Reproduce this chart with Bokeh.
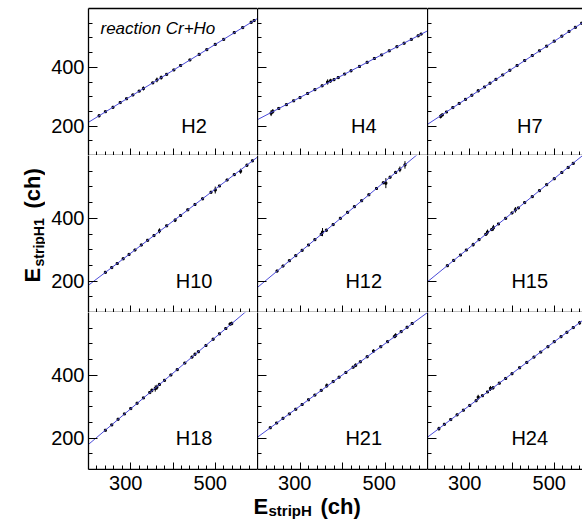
import math
from bokeh.plotting import figure
from bokeh.layouts import column, row
from bokeh.models import LinearAxis, FixedTicker, Label, Range1d, ColumnDataSource
from bokeh.embed import file_html
from bokeh.resources import INLINE
from bokeh.core.properties import value

# ---------------- data ----------------
PANEL_NAMES = ["H2", "H4", "H7", "H10", "H12", "H15", "H18", "H21", "H24"]

# straight-line calibration fits: value of E_stripH1 at E_stripH = 200 and 600
FIT_X = [200, 600]
FIT_Y_AT_200 = [213, 222, 206, 187, 180, 198, 180, 203, 203]
FIT_Y_AT_600 = [566, 524, 583, 595, 630, 636, 634, 600, 608]

X_H2 = [225, 240, 258, 275, 290, 305, 320, 330, 352, 362, 372, 385, 402, 418, 440, 462, 480, 500, 520, 545, 565, 585, 592]
Y_H2 = [235, 249, 264, 280, 293, 306, 319, 328, 347, 357, 365, 376, 391, 406, 425, 444, 460, 478, 495, 518, 535, 553, 559]
E_H2 = [5, 3, 3, 4, 3, 4, 3, 7, 4, 8, 7, 3, 3, 4, 3, 4, 3, 4, 3, 3, 3, 5, 4]

X_H4 = [232, 236, 250, 268, 285, 300, 318, 335, 352, 365, 372, 380, 390, 405, 420, 440, 458, 475, 492, 510, 528, 545, 562, 578, 585]
Y_H4 = [244, 250, 260, 273, 286, 297, 311, 324, 337, 350, 354, 358, 365, 377, 388, 403, 417, 430, 442, 456, 470, 482, 495, 507, 513]
E_H4 = [10, 8, 3, 3, 3, 4, 3, 3, 3, 9, 7, 3, 5, 3, 3, 3, 3, 4, 3, 3, 3, 3, 3, 3, 3]

X_H7 = [231, 235, 245, 260, 275, 290, 305, 320, 335, 348, 362, 378, 395, 412, 430, 448, 465, 482, 500, 518, 535, 550, 565]
Y_H7 = [233, 238, 248, 263, 277, 291, 305, 320, 333, 346, 359, 374, 390, 406, 423, 440, 456, 472, 489, 506, 522, 536, 550]
E_H7 = [7, 5, 3, 3, 3, 3, 3, 5, 3, 3, 3, 3, 3, 3, 3, 3, 3, 3, 3, 3, 3, 3, 3]

X_H10 = [240, 255, 268, 282, 296, 310, 325, 340, 355, 368, 385, 405, 418, 435, 452, 470, 490, 500, 510, 528, 545, 560, 575, 588]
Y_H10 = [228, 243, 256, 271, 285, 299, 315, 330, 345, 360, 376, 394, 409, 427, 444, 462, 483, 490, 503, 522, 539, 550, 569, 583]
E_H10 = [4, 3, 3, 4, 3, 3, 4, 3, 3, 8, 3, 6, 3, 3, 3, 4, 3, 11, 3, 3, 4, 8, 5, 4]

X_H12 = [246, 260, 275, 290, 305, 320, 335, 350, 353, 362, 378, 395, 412, 428, 445, 462, 480, 496, 502, 512, 525, 535, 547]
Y_H12 = [232, 248, 265, 281, 298, 315, 332, 349, 356, 362, 380, 400, 419, 437, 456, 475, 495, 513, 512, 531, 546, 556, 570]
E_H12 = [4, 3, 3, 4, 3, 3, 4, 3, 13, 5, 3, 3, 3, 4, 3, 3, 3, 4, 16, 3, 5, 9, 12]

X_H15 = [247, 262, 278, 292, 308, 322, 338, 342, 352, 356, 368, 385, 400, 408, 415, 430, 448, 465, 482, 500, 518, 533, 545]
Y_H15 = [249, 266, 283, 299, 316, 332, 349, 356, 364, 370, 382, 400, 417, 427, 433, 450, 469, 488, 507, 526, 546, 562, 575]
E_H15 = [3, 4, 3, 3, 6, 3, 3, 8, 4, 9, 3, 3, 3, 9, 3, 3, 3, 3, 3, 3, 3, 4, 3]

X_H18 = [240, 255, 270, 285, 300, 315, 330, 345, 350, 358, 362, 368, 380, 395, 410, 428, 445, 452, 460, 478, 495, 510, 525, 535, 539]
Y_H18 = [225, 242, 260, 277, 294, 311, 328, 345, 352, 358, 362, 371, 384, 401, 418, 439, 458, 467, 475, 495, 515, 532, 549, 563, 565]
E_H18 = [3, 3, 3, 3, 3, 3, 3, 3, 6, 10, 8, 3, 4, 3, 3, 3, 3, 5, 3, 3, 4, 3, 3, 5, 6]

X_H21 = [230, 245, 260, 275, 290, 305, 320, 335, 350, 363, 378, 392, 408, 425, 431, 442, 458, 473, 490, 506, 522, 525, 538, 552, 564]
Y_H21 = [233, 248, 263, 277, 292, 307, 322, 337, 352, 367, 380, 394, 409, 426, 432, 443, 459, 477, 491, 507, 523, 527, 539, 553, 565]
E_H21 = [3, 3, 3, 3, 3, 3, 3, 3, 3, 7, 3, 3, 3, 3, 6, 3, 3, 6, 3, 3, 3, 7, 3, 3, 4]

X_H24 = [227, 240, 255, 270, 285, 300, 315, 320, 330, 342, 349, 355, 370, 385, 400, 418, 435, 452, 468, 485, 500, 516, 530, 545, 560]
Y_H24 = [230, 244, 259, 274, 289, 304, 319, 330, 335, 347, 358, 360, 375, 390, 405, 424, 441, 458, 474, 491, 507, 523, 537, 552, 567]
E_H24 = [6, 3, 3, 3, 3, 3, 3, 8, 3, 3, 8, 5, 3, 3, 3, 3, 3, 3, 3, 3, 3, 3, 3, 3, 6]

PANEL_X = [X_H2, X_H4, X_H7, X_H10, X_H12, X_H15, X_H18, X_H21, X_H24]
PANEL_Y = [Y_H2, Y_H4, Y_H7, Y_H10, Y_H12, Y_H15, Y_H18, Y_H21, Y_H24]
PANEL_E = [E_H2, E_H4, E_H7, E_H10, E_H12, E_H15, E_H18, E_H21, E_H24]

X_MAJOR = [300, 400, 500]
X_MINOR = [220, 240, 260, 280, 320, 340, 360, 380, 420, 440, 460, 480, 520, 540, 560, 580]
X_LABELED = [300, 500]
X_LABELS = {300: "300\u2002", 500: "500\u2002"}
Y_MAJOR = [200, 400]
Y_MINOR = [150, 250, 300, 350, 450, 500, 550]
Y_MIN, Y_MAX = 100, 600
X_MIN, X_MAX = 200, 600

# ---------------- layout / style ----------------
FONT = "Liberation Sans"
YTITLE_W = 45
COL_FRAME_W = [169, 170, 155]
ROW_FRAME_H = [147, 157, 157]
LEFT_B = 88 - YTITLE_W
TOP_B = 8
BOTTOM_B = 1
XSTRIP_H = 522 - TOP_B - sum(ROW_FRAME_H) - BOTTOM_B
XSTRIP_FRAME_W = 582 - YTITLE_W - LEFT_B
LINE_COLOR = "#4b4bd8"
PX_PER_UNIT = COL_FRAME_W[0] / (X_MAX - X_MIN)


def col_x_end(c):
    return X_MAX if c < 2 else X_MIN + COL_FRAME_W[c] / PX_PER_UNIT


def style_axis(ax, show_labels, tick_in, minor_in):
    ax.major_tick_in = tick_in
    ax.major_tick_out = 0
    ax.minor_tick_in = minor_in
    ax.minor_tick_out = 0
    ax.axis_line_color = "black"
    ax.axis_line_width = 1.3
    ax.major_tick_line_color = "black"
    ax.minor_tick_line_color = "black"
    ax.major_label_text_font = FONT
    ax.major_label_text_color = "black"
    if show_labels:
        ax.major_label_text_font_size = "20px"
        ax.major_label_standoff = 4
    else:
        ax.major_label_text_font_size = "0px"
        ax.major_label_text_alpha = 0
        ax.major_label_standoff = 0


def make_panel(i):
    r, c = divmod(i, 3)
    p = figure(frame_width=COL_FRAME_W[c], frame_height=ROW_FRAME_H[r],
               x_range=Range1d(X_MIN, col_x_end(c)), y_range=Range1d(Y_MIN, Y_MAX),
               output_backend="svg", toolbar_location=None,
               x_axis_location=None, y_axis_location=None,
               min_border=0,
               min_border_left=LEFT_B if c == 0 else 0, min_border_right=0,
               min_border_top=TOP_B if r == 0 else 0,
               min_border_bottom=BOTTOM_B if r == 2 else 0)
    p.outline_line_color = None
    p.grid.visible = False
    p.background_fill_color = "white"
    p.border_fill_color = "white"

    yax = LinearAxis(ticker=FixedTicker(ticks=Y_MAJOR, minor_ticks=Y_MINOR))
    style_axis(yax, c == 0, 9, 4)
    p.add_layout(yax, "left")

    xax = LinearAxis(ticker=FixedTicker(ticks=X_MAJOR, minor_ticks=X_MINOR))
    style_axis(xax, False, 7, 4)
    p.add_layout(xax, "below")

    if r == 0:
        tax = LinearAxis(ticker=FixedTicker(ticks=[], minor_ticks=[]))
        style_axis(tax, False, 0, 0)
        p.add_layout(tax, "above")

    xs, ys, es = PANEL_X[i], PANEL_Y[i], PANEL_E[i]
    src = ColumnDataSource(dict(x=xs, y=ys,
                                lo=[y - e for y, e in zip(ys, es)],
                                hi=[y + e for y, e in zip(ys, es)]))
    p.segment(x0="x", y0="lo", x1="x", y1="hi", source=src, line_color="black", line_width=1)
    p.scatter(x="x", y="y", source=src, marker="square", size=2, color="black")

    p.line(FIT_X, [FIT_Y_AT_200[i], FIT_Y_AT_600[i]], line_color=LINE_COLOR, line_width=1)

    p.text(x=[450 if c < 2 else 442], y=[200], text=[PANEL_NAMES[i]],
           text_font=value(FONT), text_font_size="20px", text_color="black",
           text_align="center", text_baseline="middle")
    return p


def blank_fig(w, h, left=0):
    f = figure(width=w, height=h, x_range=Range1d(0, 1), y_range=Range1d(0, h),
               output_backend="svg", toolbar_location=None,
               x_axis_location=None, y_axis_location=None, min_border=0,
               min_border_left=left)
    f.outline_line_color = None
    f.grid.visible = False
    f.background_fill_color = "white"
    f.border_fill_color = "white"
    return f


panels = [make_panel(i) for i in range(9)]

# reaction label in first panel
panels[0].add_layout(Label(x=12, y=127, x_units="screen", y_units="screen",
                           text="reaction Cr+Ho", text_font=FONT, text_font_style="italic",
                           text_font_size="17px", text_color="black", text_baseline="alphabetic"))

# y axis title strip (screen units measured from the strip's bottom-left)
ytitle = blank_fig(YTITLE_W, 522)
for txt, x, y, size in [("E", 32, 240, "22px"), ("stripH1", 38, 256, "14px"), ("(ch)", 32, 314, "22px")]:
    ytitle.add_layout(Label(x=x, y=y, x_units="screen", y_units="screen", angle=math.pi / 2,
                            text=txt, text_font=FONT, text_font_style="bold", text_font_size=size,
                            text_color="black", text_align="left", text_baseline="alphabetic"))

# bottom strip: tick labels of the three columns (each column's own x scale) + x title
xstrip = blank_fig(582 - YTITLE_W, XSTRIP_H, left=LEFT_B)
ranges = {}
offset = 0
for c in range(3):
    ranges[f"col{c}"] = Range1d(X_MIN - offset / PX_PER_UNIT,
                                X_MIN + (XSTRIP_FRAME_W - offset) / PX_PER_UNIT)
    offset += COL_FRAME_W[c]
xstrip.extra_x_ranges = ranges
for c in range(3):
    ax = LinearAxis(x_range_name=f"col{c}", fixed_location=XSTRIP_H,
                    ticker=FixedTicker(ticks=X_LABELED, minor_ticks=[]),
                    major_label_overrides=X_LABELS)
    ax.axis_line_color = None
    ax.major_tick_line_color = None
    ax.minor_tick_line_color = None
    ax.major_tick_in = 0
    ax.major_tick_out = 0
    ax.major_label_text_font = FONT
    ax.major_label_text_font_size = "20px"
    ax.major_label_text_color = "black"
    ax.major_label_standoff = 1
    xstrip.add_layout(ax, "below")

for txt, x, y, size in [("E", 165, 16, "22px"), ("stripH", 180, 12, "15px"), ("(ch)", 232, 16, "22px")]:
    xstrip.add_layout(Label(x=x, y=y, x_units="screen", y_units="screen",
                            text=txt, text_font=FONT, text_font_style="bold", text_font_size=size,
                            text_color="black", text_align="left", text_baseline="alphabetic"))

grid = column(row(*panels[0:3]), row(*panels[3:6]), row(*panels[6:9]), xstrip)
layout = row(ytitle, grid)

with open("out.html", "w") as f:
    f.write(file_html(layout, INLINE))
